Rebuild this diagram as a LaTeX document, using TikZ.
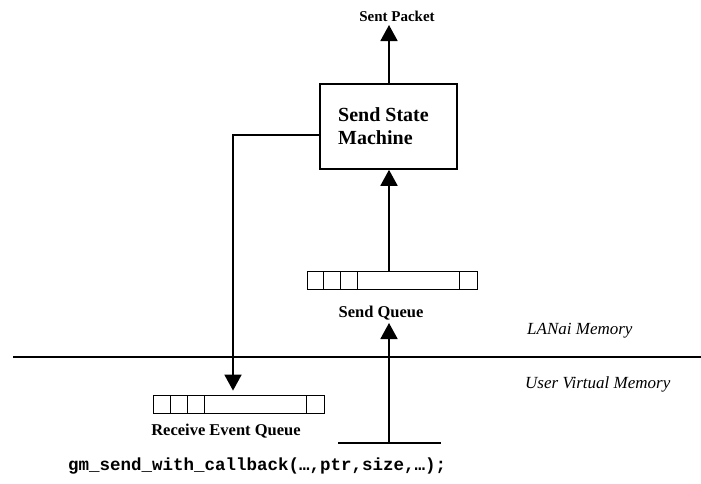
\documentclass[tikz,border=0pt]{standalone}
\usepackage{fontspec}
\setmainfont{Liberation Serif}
\setmonofont{Liberation Mono}
\usetikzlibrary{arrows.meta}
\begin{document}
\begin{tikzpicture}[x=1pt,y=-1pt,
  thick line/.style={line width=1.8pt},
  arr/.style={thick line,-{Triangle[length=16pt,width=17pt]}},
  cell/.style={draw,line width=0.8pt},
  lbl/.style={font=\fontsize{16.5}{18}\selectfont\bfseries,inner sep=0pt,anchor=base},
  region/.style={font=\fontsize{17}{19}\selectfont\itshape,inner sep=0pt,anchor=base west}]
\useasboundingbox (0,0) rectangle (701,483);
% Send State Machine
\node[draw,line width=1.6pt,minimum width=137pt,minimum height=85pt,inner sep=0pt] (ssm) at (388.5,126.5) {};
\node[font=\fontsize{20}{23}\selectfont\bfseries,align=left,inner sep=0pt,anchor=base west] (ssmtext) at (338,144) {Send State\\Machine};
\node[font=\fontsize{15}{17}\selectfont\bfseries,inner sep=0pt,anchor=base] (sent) at (397,21) {Sent Packet};
\coordinate (sentin) at (389,25);
\draw[arr] (ssm.north -| sentin) -- (sentin);
% Send queue
\node[cell,minimum width=170pt,minimum height=18pt,inner sep=0pt] (sq) at (392,280) {};
\foreach \x in {323,340,357,459} \draw[line width=0.8pt] (\x,271) -- (\x,289);
\node[lbl] (sqlabel) at (381,317) {Send Queue};
\draw[arr] (sq.north -| sentin) -- (ssm.south -| sentin);
% Receive queue
\node[cell,minimum width=171pt,minimum height=18pt,inner sep=0pt] (rq) at (238.5,404) {};
\foreach \x in {170,187,204,306} \draw[line width=0.8pt] (\x,395) -- (\x,413);
\node[lbl] (rqlabel) at (226,435) {Receive Event Queue};
\coordinate (rturn) at (233,135);
\draw[arr,shorten >=4pt] (ssm.west |- rturn) -- (rturn) -- (rturn |- rq.north);
% Divider
\coordinate (dl) at (13,357);
\coordinate (dr) at (701,357);
\draw[line width=1.8pt] (dl) -- (dr);
\node[region] (lanai) at (527,334) {LANai Memory};
\node[region] (uvm) at (525,388) {User Virtual Memory};
% Bottom call
\coordinate (bl) at (338,443);
\coordinate (br) at (441,443);
\coordinate (bm) at (389,443);
\coordinate (sqin) at (389,323);
\draw[thick line] (bl) -- (br);
\draw[arr] (bm) -- (sqin);
\node[font=\fontsize{17.5}{19}\selectfont\ttfamily\bfseries,inner sep=0pt,anchor=base west] (code) at (68,470) {gm\_send\_with\_callback(…,ptr,size,…);};
\end{tikzpicture}
\end{document}
